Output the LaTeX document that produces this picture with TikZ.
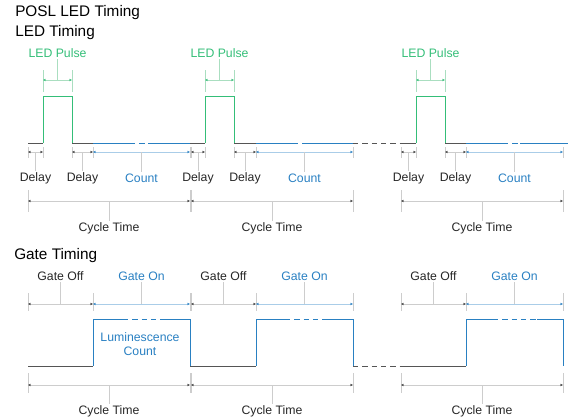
\documentclass[tikz,border=0pt]{standalone}
\usepackage{fontspec}
\setmainfont{Liberation Sans}
\usepackage{tikz}
\usetikzlibrary{arrows.meta}

\definecolor{ledgreen}{RGB}{52,190,120}
\definecolor{ledlight}{RGB}{170,222,192}
\definecolor{gateblue}{RGB}{41,128,194}
\definecolor{bluelight}{RGB}{170,205,232}
\definecolor{wavegray}{RGB}{85,85,85}
\definecolor{dimgray}{RGB}{205,205,205}
\definecolor{tipgray}{RGB}{60,60,60}

\begin{document}
\begin{tikzpicture}[x=0.75pt,y=0.75pt,yscale=-1,xscale=1,
  wave/.style={color=wavegray,line width=0.7pt},
  ledwave/.style={color=ledgreen,line width=0.7pt},
  cntwave/.style={color=gateblue,line width=0.7pt},
  gap/.style={dash pattern={on 4pt off 3pt}},
  extline/.style={draw=dimgray,line width=0.5pt},
  dimline/.style={draw=dimgray,line width=0.5pt,{Stealth[length=2.2pt,width=1.8pt,color=tipgray]}-{Stealth[length=2.2pt,width=1.8pt,color=tipgray]}},
  cntdim/.style={draw=bluelight,line width=0.5pt,{Stealth[length=2.2pt,width=1.8pt,color=gateblue]}-{Stealth[length=2.2pt,width=1.8pt,color=gateblue]}},
  leddim/.style={draw=ledlight,line width=0.5pt,{Stealth[length=2.2pt,width=1.8pt,color=ledgreen]}-{Stealth[length=2.2pt,width=1.8pt,color=ledgreen]}},
  lbl/.style={font=\fontsize{9.2}{10.5}\selectfont,text=black!85,inner sep=1pt},
  bluelbl/.style={lbl,text=gateblue},
  greenlbl/.style={lbl,text=ledgreen},
  head/.style={font=\fontsize{11.5}{13}\selectfont,anchor=west,inner sep=0pt}]
\useasboundingbox (0,0) rectangle (568,419);

% Text Node
\draw (15,13) node [head] (posl) {POSL LED Timing};
% Text Node
\draw (15,33) node [head] (ledtiming) {LED Timing};
% Text Node
\draw (14,256) node [head] (gatetiming) {Gate Timing};

%Straight Lines  LED waveform, cycle 1
\draw [wave] (28,143) -- (43,143) ;
\draw [ledwave] (43,143) -- (43,96) -- (72,96) -- (72,143) ;
\draw [wave] (72,143) -- (93,143) ;
\draw [cntwave] (93,143) -- (130,143) ;
\draw [cntwave,gap] (130,143) -- (148,143) ;
\draw [cntwave] (148,143) -- (190,143) ;

%Straight Lines  LED waveform, cycle 2
\draw [wave] (190,143) -- (205,143) ;
\draw [ledwave] (205,143) -- (205,96) -- (234,96) -- (234,143) ;
\draw [wave] (234,143) -- (256,143) ;
\draw [cntwave] (256,143) -- (293,143) ;
\draw [cntwave,gap] (293,143) -- (308,143) ;
\draw [cntwave] (308,143) -- (353,143) ;

%Straight Lines  break
\draw [wave,gap] (353,143) -- (401,143) ;

%Straight Lines  LED waveform, cycle 3
\draw [wave] (401,143) -- (416,143) ;
\draw [ledwave] (416,143) -- (416,96) -- (445,96) -- (445,143) ;
\draw [wave] (445,143) -- (466,143) ;
\draw [cntwave] (466,143) -- (503,143) ;
\draw [cntwave,gap] (503,143) -- (520,143) ;
\draw [cntwave] (520,143) -- (568,143) ;

%LED Pulse dimensions
\draw [extline,draw=ledlight] (43,70) -- (43,92) (72,70) -- (72,92) ;
\draw [leddim] (43,80) -- (72,80) ;
\draw (57.5,53) node [greenlbl] (pulseA) {LED Pulse};
\draw [extline,draw=ledlight] (57.5,80) -- (pulseA.south) ;

\draw [extline,draw=ledlight] (205,70) -- (205,92) (234,70) -- (234,92) ;
\draw [leddim] (205,80) -- (234,80) ;
\draw (219.5,53) node [greenlbl] (pulseB) {LED Pulse};
\draw [extline,draw=ledlight] (219.5,80) -- (pulseB.south) ;

\draw [extline,draw=ledlight] (416,70) -- (416,92) (445,70) -- (445,92) ;
\draw [leddim] (416,80) -- (445,80) ;
\draw (430.5,53) node [greenlbl] (pulseC) {LED Pulse};
\draw [extline,draw=ledlight] (430.5,80) -- (pulseC.south) ;

%Delay / Count dimensions, cycle 1
\draw [extline] (28,147) -- (28,158) (43,147) -- (43,158) (72,147) -- (72,158) (93,147) -- (93,158) (190,147) -- (190,158) ;
\draw [dimline] (28,152) -- (43,152) ;
\draw [dimline] (72,152) -- (93,152) ;
\draw [cntdim] (93,152) -- (190,152) ;
\draw (35.5,178) node [lbl] (delayA1) {Delay};
\draw (82.5,178) node [lbl] (delayA2) {Delay};
\draw (141.5,178) node [bluelbl] (countA) {Count};
\draw [extline] (35.5,152) -- (delayA1.north) (82.5,152) -- (delayA2.north) (141.5,152) -- (countA.north) ;

%Delay / Count dimensions, cycle 2
\draw [extline] (191,147) -- (191,158) (205,147) -- (205,158) (234,147) -- (234,158) (256,147) -- (256,158) (353,147) -- (353,158) ;
\draw [dimline] (191,152) -- (205,152) ;
\draw [dimline] (234,152) -- (256,152) ;
\draw [cntdim] (256,152) -- (353,152) ;
\draw (198,178) node [lbl] (delayB1) {Delay};
\draw (245,178) node [lbl] (delayB2) {Delay};
\draw (304.5,178) node [bluelbl] (countB) {Count};
\draw [extline] (198,152) -- (delayB1.north) (245,152) -- (delayB2.north) (304.5,152) -- (countB.north) ;

%Delay / Count dimensions, cycle 3
\draw [extline] (401,147) -- (401,158) (416,147) -- (416,158) (445,147) -- (445,158) (466,147) -- (466,158) (563,147) -- (563,158) ;
\draw [dimline] (401,152) -- (416,152) ;
\draw [dimline] (445,152) -- (466,152) ;
\draw [cntdim] (466,152) -- (563,152) ;
\draw (408.5,178) node [lbl] (delayC1) {Delay};
\draw (455.5,178) node [lbl] (delayC2) {Delay};
\draw (514.5,178) node [bluelbl] (countC) {Count};
\draw [extline] (408.5,152) -- (delayC1.north) (455.5,152) -- (delayC2.north) (514.5,152) -- (countC.north) ;

%Cycle Time dimensions, LED
\draw [extline] (28,190) -- (28,212) (190,190) -- (190,212) (191,190) -- (191,212) (353,190) -- (353,212) (401,190) -- (401,212) (563,190) -- (563,212) ;
\draw [dimline] (28,201) -- (190,201) ;
\draw [dimline] (191,201) -- (353,201) ;
\draw [dimline] (401,201) -- (563,201) ;
\draw (109,228) node [lbl] (cycleA) {Cycle Time};
\draw (272,228) node [lbl] (cycleB) {Cycle Time};
\draw (482,228) node [lbl] (cycleC) {Cycle Time};
\draw [extline] (109,201) -- (cycleA.north) (272,201) -- (cycleB.north) (482,201) -- (cycleC.north) ;

%Gate Off / Gate On dimensions
\draw [extline] (28,293) -- (28,311) (93,293) -- (93,311) (190,293) -- (190,311) (191,293) -- (191,311) (256,293) -- (256,311) (353,293) -- (353,311) (401,293) -- (401,311) (466,293) -- (466,311) (563,293) -- (563,311) ;
\draw [dimline] (28,304) -- (93,304) ;
\draw [cntdim] (93,304) -- (190,304) ;
\draw [dimline] (191,304) -- (256,304) ;
\draw [cntdim] (256,304) -- (353,304) ;
\draw [dimline] (401,304) -- (466,304) ;
\draw [cntdim] (466,304) -- (563,304) ;
\draw (60.5,276) node [lbl] (offA) {Gate Off};
\draw (141.5,276) node [bluelbl] (onA) {Gate On};
\draw (223.5,276) node [lbl] (offB) {Gate Off};
\draw (304.5,276) node [bluelbl] (onB) {Gate On};
\draw (433.5,276) node [lbl] (offC) {Gate Off};
\draw (514.5,276) node [bluelbl] (onC) {Gate On};
\draw [extline] (60.5,304) -- (offA.south) (141.5,304) -- (onA.south) (223.5,304) -- (offB.south) (304.5,304) -- (onB.south) (433.5,304) -- (offC.south) (514.5,304) -- (onC.south) ;

%Straight Lines  gate waveform, cycle 1
\draw [wave] (28,366) -- (93,366) ;
\draw [cntwave] (93,366) -- (93,319) -- (123,319) ;
\draw [cntwave,gap] (123,319) -- (163,319) ;
\draw [cntwave] (163,319) -- (190,319) -- (190,366) ;
% Text Node
\draw (140,344) node [bluelbl,align=center] (lumcount) {Luminescence\\Count};

%Straight Lines  gate waveform, cycle 2
\draw [wave] (190,366) -- (256,366) ;
\draw [cntwave] (256,366) -- (256,319) -- (285,319) ;
\draw [cntwave,gap] (285,319) -- (327,319) ;
\draw [cntwave] (327,319) -- (353,319) -- (353,366) ;

%Straight Lines  break
\draw [wave,gap] (353,366) -- (401,366) ;

%Straight Lines  gate waveform, cycle 3
\draw [wave] (401,366) -- (466,366) ;
\draw [cntwave] (466,366) -- (466,319) -- (493,319) ;
\draw [cntwave,gap] (493,319) -- (537,319) ;
\draw [cntwave] (537,319) -- (563,319) -- (563,366) ;

%Cycle Time dimensions, gate
\draw [extline] (28,373) -- (28,393) (190,373) -- (190,393) (191,373) -- (191,393) (353,373) -- (353,393) (401,373) -- (401,393) (563,373) -- (563,393) ;
\draw [dimline] (28,385) -- (190,385) ;
\draw [dimline] (191,385) -- (353,385) ;
\draw [dimline] (401,385) -- (563,385) ;
\draw (109,411) node [lbl] (gcycleA) {Cycle Time};
\draw (272,411) node [lbl] (gcycleB) {Cycle Time};
\draw (482,411) node [lbl] (gcycleC) {Cycle Time};
\draw [extline] (109,385) -- (gcycleA.north) (272,385) -- (gcycleB.north) (482,385) -- (gcycleC.north) ;

\end{tikzpicture}
\end{document}
